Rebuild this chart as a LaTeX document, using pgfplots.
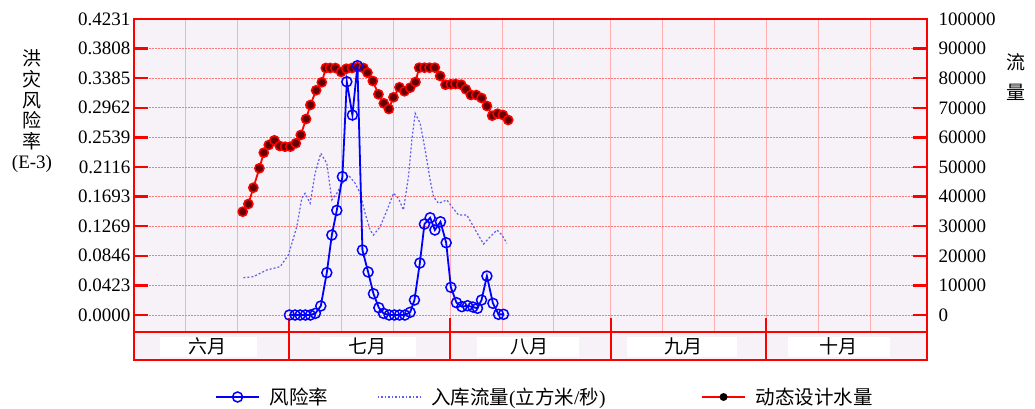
\documentclass[border=0pt]{standalone}
\usepackage{fontspec}
\setmainfont{Liberation Serif}
\newfontfamily\cjk{Noto Sans CJK SC}
\usepackage{pgfplots}
\pgfplotsset{compat=1.18}

\definecolor{bgc}{RGB}{246,242,247}
\definecolor{gridv}{RGB}{255,175,175}
\definecolor{gridh}{RGB}{255,120,120}
\definecolor{flowc}{RGB}{95,95,235}
\definecolor{mkred}{RGB}{100,0,0}
\newcommand\tf{\fontsize{19}{19}\selectfont}

\begin{document}
\begin{tikzpicture}
\useasboundingbox (-134pt,-49pt) rectangle (901pt,360pt);
% ---------- right axis: flow ----------
\begin{axis}[
 at={(0pt,0pt)}, anchor=south west,
 width=793pt, height=341pt, scale only axis,
 xmin=0, xmax=153, ymin=-15203, ymax=100000,
 axis background/.style={fill=bgc},
 axis line style={red, line width=1.8pt},
 xtick={10,20,30,40,50,61,71,81,92,102,112,122,132,142},
 xticklabels={},
 xtick style={draw=none},
 ytick={0,10000,20000,30000,40000,50000,60000,70000,80000,90000,100000},
 yticklabels={0,10000,20000,30000,40000,50000,60000,70000,80000,90000,100000},
 scaled y ticks=false,
 ytick pos=right,
 tick align=inside,
 major tick length=14pt,
 ytick style={red, line width=2.5pt},
 yticklabel style={font=\tf, xshift=8pt},
 xmajorgrids, ymajorgrids,
 x grid style={gridv, line width=0.9pt},
 y grid style={gridh, line width=0.9pt, dash pattern=on 1.5pt off 1.5pt},
]
\addplot[flowc, line width=1.2pt, dash pattern=on 2pt off 2pt] coordinates {
(21.10,12601)(23.03,12939)(25.62,15203)(28.19,16318)(29.79,20270)(31.41,29831)
(32.37,39426)(33.01,41115)(33.98,37737)(34.94,47872)(36.04,54629)(37.20,51250)
(38.17,38852)(39.13,41115)(39.77,43345)(41.37,47298)(42.66,44493)(43.63,41115)
(44.59,34358)(45.56,28716)(46.20,27027)(47.49,29831)(49.09,36588)(50.06,41115)
(51.02,39426)(51.99,35473)(52.95,46723)(53.61,59122)(54.25,68142)(55.21,64764)
(56.18,55744)(57.14,45608)(57.78,39966)(58.75,37737)(60.37,38852)(61.33,36588)
(62.61,33784)(64.23,33784)(65.50,29831)(67.43,23987)(68.73,26453)(70.02,28716)
(70.98,27027)(71.95,24223)
};
\addplot[red, line width=1.8pt, mark=*, mark size=4.6pt,
 mark options={draw=red, fill=mkred, line width=1.5pt, solid}] coordinates {
(20.98,34899)(22.07,37500)(23.03,43007)(24.19,49561)(25.04,54832)(26.00,57433)
(27.08,59020)(28.13,57095)(29.15,56859)(30.17,56859)(31.22,58007)(32.18,60811)
(33.20,66216)(34.03,70946)(35.14,75913)(36.24,78615)(37.01,83446)(37.84,83446)
(38.86,83446)(39.96,82095)(40.98,83210)(42.08,83446)(43.11,83683)(44.27,83446)
(45.04,81858)(46.08,79054)(47.16,74562)(48.20,71521)(49.17,69595)(50.06,73548)
(51.22,76926)(52.18,75575)(53.28,76791)(54.31,78717)(55.02,83548)(56.04,83548)
(57.01,83548)(58.05,83548)(59.07,80744)(60.10,77805)(61.14,77940)(62.03,78041)
(63.13,77805)(64.03,76250)(65.00,74325)(66.02,74325)(67.05,73311)(68.09,70609)
(69.11,67332)(70.14,68007)(71.18,67568)(72.20,65879)
};
% month band
\fill[bgc] (axis cs:0,-15203) rectangle (axis cs:153,-5743);
\fill[white] (axis cs:5.0,-14189) rectangle (axis cs:23.7,-7432);
\fill[white] (axis cs:35.9,-14189) rectangle (axis cs:54.4,-7432);
\fill[white] (axis cs:66.2,-14189) rectangle (axis cs:85.9,-7432);
\fill[white] (axis cs:95.1,-14189) rectangle (axis cs:116.3,-7432);
\fill[white] (axis cs:126.2,-14189) rectangle (axis cs:145.9,-7432);
\draw[red, line width=1.8pt] (axis cs:0,-5743) -- (axis cs:153,-5743);
\draw[red, line width=2pt] (axis cs:30,-15203) -- (axis cs:30,-1014);
\draw[red, line width=2pt] (axis cs:61,-15203) -- (axis cs:61,-1014);
\draw[red, line width=2pt] (axis cs:92,-15203) -- (axis cs:92,-1014);
\draw[red, line width=2pt] (axis cs:122,-15203) -- (axis cs:122,-1014);
\node[font=\cjk\tf] at (axis cs:14.2,-10642) {六月};
\node[font=\cjk\tf] at (axis cs:45.1,-10642) {七月};
\node[font=\cjk\tf] at (axis cs:76.4,-10642) {八月};
\node[font=\cjk\tf] at (axis cs:106.0,-10642) {九月};
\node[font=\cjk\tf] at (axis cs:136.0,-10642) {十月};
\end{axis}
% ---------- left axis: risk ----------
\begin{axis}[
 at={(0pt,0pt)}, anchor=south west,
 width=793pt, height=341pt, scale only axis,
 xmin=0, xmax=153, ymin=-0.0643, ymax=0.4231,
 axis line style={red, line width=1.8pt},
 xtick=\empty,
 ytick={0,0.04231,0.08462,0.12693,0.16924,0.21155,0.25386,0.29617,0.33848,0.38079,0.4231},
 yticklabels={0.0000,0.0423,0.0846,0.1269,0.1693,0.2116,0.2539,0.2962,0.3385,0.3808,0.4231},
 ytick pos=left,
 tick align=inside,
 major tick length=14pt,
 ytick style={red, line width=2.5pt},
 yticklabel style={font=\tf},
 legend columns=3,
 legend image code/.code={\draw[mark repeat=2,mark phase=2,#1] plot coordinates {(0pt,0pt) (21.5pt,0pt) (43pt,0pt)};},
 legend style={at={(0.1021,-0.1085)}, anchor=west, draw=none, fill=none,
   inner sep=0pt, nodes={inner sep=0pt}, font=\fontsize{19.5}{20}\selectfont,
   /tikz/every odd column/.append style={column sep=10pt}},
 legend cell align=left,
]
\addplot[blue, line width=1.8pt, mark=o, mark size=5pt, mark options={line width=1.5pt, solid}] coordinates {
(29.98,0)(31.08,0)(32.05,0)(33.07,0)(34.03,0)(35.00,0.0024)(36.04,0.0129)
(37.20,0.0605)(38.17,0.1143)(39.13,0.1496)(40.21,0.1977)(41.06,0.3334)(42.14,0.2858)
(43.11,0.3563)(44.07,0.0929)(45.17,0.0615)(46.20,0.0304)(47.24,0.0104)(48.13,0.0024)
(49.23,0)(50.25,0)(51.22,0)(52.26,0)(53.28,0.0039)(54.11,0.0214)(55.15,0.0743)
(56.04,0.1300)(57.14,0.1390)(58.05,0.1215)(59.13,0.1333)(60.23,0.1033)(61.14,0.0396)
(62.22,0.0176)(63.26,0.0119)(64.34,0.0133)(65.39,0.0114)(66.27,0.0096)(67.05,0.0214)
(68.09,0.0557)(69.25,0.0167)(70.33,0.001)(71.29,0.001)
};
\addlegendentry{\makebox[107pt][l]{\cjk 风险率}}
\addlegendimage{flowc, line width=1.2pt, dash pattern=on 1.5pt off 2pt}
\addlegendentry{\makebox[270pt][l]{{\cjk 入库流量}({\cjk 立方米}/{\cjk 秒})}}
\addlegendimage{red, line width=1.8pt, mark=*, mark size=3pt, mark options={draw=black, fill=black, solid}}
\addlegendentry{{\cjk 动态设计水量}}
\end{axis}
\node[font=\tf, align=center] at (-102pt,248.5pt)
 {{\cjk 洪}\\[1.6pt]{\cjk 灾}\\[1.6pt]{\cjk 风}\\[1.6pt]{\cjk 险}\\[1.6pt]{\cjk 率}\\[1.6pt](E-3)};
\node[font=\cjk\tf, align=center] at (882pt,283pt) {流\\[11pt]量};
\end{tikzpicture}
\end{document}
